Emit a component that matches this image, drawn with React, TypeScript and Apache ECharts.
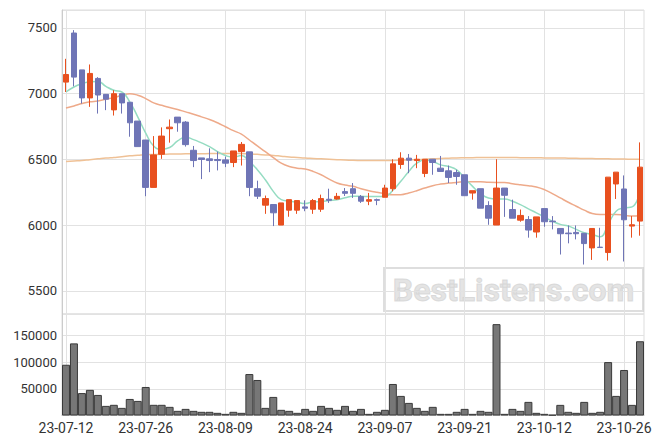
import React, { useEffect, useRef } from "react";
import * as echarts from "echarts";

const dates = [
  "23-07-12","23-07-13","23-07-14","23-07-17","23-07-18","23-07-19","23-07-20","23-07-21","23-07-24","23-07-25",
  "23-07-26","23-07-27","23-07-28","23-07-31","23-08-01","23-08-02","23-08-03","23-08-04","23-08-07","23-08-08",
  "23-08-09","23-08-10","23-08-11","23-08-14","23-08-16","23-08-17","23-08-18","23-08-21","23-08-22","23-08-23",
  "23-08-24","23-08-25","23-08-28","23-08-29","23-08-30","23-08-31","23-09-01","23-09-04","23-09-05","23-09-06",
  "23-09-07","23-09-08","23-09-11","23-09-12","23-09-13","23-09-14","23-09-15","23-09-18","23-09-19","23-09-20",
  "23-09-21","23-09-22","23-09-25","23-09-26","23-09-27","23-10-04","23-10-05","23-10-06","23-10-10","23-10-11",
  "23-10-12","23-10-13","23-10-16","23-10-17","23-10-18","23-10-19","23-10-20","23-10-23","23-10-24","23-10-25",
  "23-10-26","23-10-27","23-10-30",
];

const opens = [
  7087,7460,7180,6967,7115,6994,6876,6999,6934,6791,
  6647,6287,6539,6733,6821,6783,6569,6511,6504,6499,
  6496,6476,6559,6557,6277,6152,6157,6001,6114,6114,
  6139,6121,6121,6197,6199,6255,6277,6217,6182,6194,
  6212,6277,6461,6509,6491,6393,6501,6433,6413,6400,
  6383,6244,6277,6149,6001,6282,6119,6038,6043,5948,
  6126,6031,5975,5940,5945,5938,5827,5833,5792,6313,
  6275,5993,6031,
];
const closes = [
  7145,7125,6967,7153,6989,6957,6999,6929,6778,6597,
  6287,6534,6677,6745,6778,6612,6491,6499,6491,6491,
  6471,6564,6614,6287,6220,6202,6094,6169,6194,6187,
  6129,6187,6202,6189,6219,6242,6242,6182,6194,6189,
  6282,6466,6509,6494,6501,6501,6476,6408,6363,6370,
  6224,6262,6129,6053,6282,6227,6053,6074,5963,6063,
  6026,6026,5935,5935,5935,5860,5975,5830,6365,6403,
  6041,6003,6441,
];
const lows = [
  7012,7055,6924,6899,6848,6874,6833,6848,6672,6597,
  6220,6287,6504,6627,6710,6597,6441,6350,6403,6416,
  6441,6441,6453,6220,6199,6086,5993,6001,6064,6086,
  6106,6086,6101,6169,6194,6222,6207,6169,6152,6152,
  6212,6257,6428,6395,6433,6365,6383,6408,6320,6307,
  6224,6194,6129,6003,6001,6063,6053,6026,5905,5905,
  5988,5968,5777,5862,5892,5701,5736,5830,5731,6199,
  5724,5905,5920,
];
const highs = [
  7264,7482,7180,7221,7125,6994,7025,6999,6934,6791,
  6647,6677,6743,6803,6821,6791,6602,6511,6584,6559,
  6521,6564,6632,6557,6338,6225,6157,6169,6194,6187,
  6189,6199,6232,6277,6245,6282,6320,6229,6245,6202,
  6307,6501,6554,6541,6534,6501,6501,6526,6453,6421,
  6383,6262,6277,6182,6501,6282,6194,6119,6069,6063,
  6126,6069,5975,5998,5998,5938,5975,5980,6365,6403,
  6378,6069,6629,
];
const volumes = [
  95000,135000,42000,48000,38500,18000,20000,14300,31000,27300,
  53400,20000,20000,16200,8700,12400,8700,6900,6900,5000,
  3100,6900,5000,77600,66500,14300,34800,10600,8700,5000,
  12400,8700,18000,14300,10600,18000,8700,12400,3100,6900,
  10600,59000,36700,23600,14300,8700,16200,3100,3100,6900,
  12400,3100,8700,6900,171000,3100,12400,8700,25500,5000,
  3100,1300,19900,6900,5000,25500,5000,6900,100000,36700,
  85200,19900,139000,
];
const ma5 = [
  7012,7050,7075,7090,7092,7055,7025,7012,6937,6823,
  6700,6602,6577,6590,6640,6668,6650,6625,6597,6559,
  6529,6516,6529,6484,6421,6345,6257,6194,6182,6174,
  6164,6177,6179,6187,6194,6208,6219,6219,6217,6217,
  6219,6265,6333,6408,6471,6496,6484,6458,6446,6421,
  6358,6295,6240,6207,6199,6199,6182,6156,6124,6094,
  6061,6031,6006,5993,5968,5943,5930,5912,6006,6106,
  6131,6139,6262,
];
const ma20 = [
  6891,6906,6924,6937,6944,6957,6969,6987,6999,6987,
  6962,6929,6911,6894,6879,6861,6843,6823,6803,6778,
  6748,6718,6692,6647,6602,6559,6514,6471,6446,6433,
  6426,6408,6383,6350,6320,6305,6295,6277,6262,6250,
  6240,6232,6232,6245,6262,6282,6300,6312,6320,6325,
  6330,6330,6330,6326,6325,6325,6315,6307,6300,6290,
  6270,6240,6207,6174,6144,6114,6089,6081,6081,6081,
  6076,6069,6074,
];
const ma60 = [
  6484,6488,6492,6498,6504,6510,6515,6520,6527,6531,
  6535,6537,6539,6540,6541,6542,6542,6543,6544,6545,
  6545,6545,6544,6542,6538,6534,6530,6524,6518,6514,
  6510,6507,6504,6501,6498,6495,6493,6492,6491,6491,
  6491,6492,6494,6496,6498,6501,6504,6507,6509,6511,
  6512,6513,6514,6515,6515,6515,6514,6513,6512,6512,
  6511,6510,6510,6509,6508,6507,6506,6505,6504,6503,
  6502,6501,6500,
];

export default function App() {
  const ref = useRef<HTMLDivElement>(null);
  useEffect(() => {
    if (!ref.current) return;
    const chart = echarts.init(ref.current, null, { renderer: "svg" });
    const candleData = dates.map((_, i) => [opens[i], closes[i], lows[i], highs[i]]);
    const font = "Roboto";
    const plain = (v: number) => String(v);
    const gridLine = { show: true, lineStyle: { color: "#e2e2e2", width: 1 } };
    const maLine = (name: string, data: number[], color: string) => ({
      name,
      type: "line",
      data,
      xAxisIndex: 0,
      yAxisIndex: 0,
      smooth: true,
      symbol: "none",
      lineStyle: { color, width: 1.5 },
      z: 1,
    });
    chart.setOption({
      animation: false,
      grid: [
        { left: 62, right: 19, top: 10, height: 304, show: true, borderColor: "#dddddd", borderWidth: 1 },
        { left: 62, right: 19, top: 314, height: 101.5, show: true, borderColor: "#dddddd", borderWidth: 1 },
      ],
      xAxis: [
        {
          type: "category",
          gridIndex: 0,
          data: dates,
          boundaryGap: true,
          axisLine: { show: false },
          axisTick: { show: false },
          axisLabel: { show: false },
          splitLine: { ...gridLine, interval: 9, alignWithLabel: true },
        },
        {
          type: "category",
          gridIndex: 1,
          data: dates,
          boundaryGap: true,
          axisLine: { show: true, lineStyle: { color: "#cccccc" } },
          axisTick: { show: false },
          axisLabel: { interval: 9, fontFamily: font, fontSize: 14, color: "#333", margin: 5 },
          splitLine: { ...gridLine, interval: 9, alignWithLabel: true },
        },
      ],
      yAxis: [
        {
          type: "value",
          gridIndex: 0,
          min: 5325,
          max: 7635,
          splitNumber: 5,
          axisLine: { show: true, lineStyle: { color: "#cccccc" } },
          axisTick: { show: false },
          axisLabel: { formatter: plain, fontFamily: font, fontSize: 13, color: "#333", margin: 5, showMinLabel: false, showMaxLabel: false },
          splitLine: gridLine,
        },
        {
          type: "value",
          gridIndex: 1,
          min: 0,
          max: 190000,
          interval: 50000,
          axisLine: { show: true, lineStyle: { color: "#cccccc" } },
          axisTick: { show: false },
          axisLabel: { formatter: plain, fontFamily: font, fontSize: 13, color: "#333", margin: 5, showMinLabel: false, showMaxLabel: false },
          splitLine: gridLine,
        },
      ],
      series: [
        maLine("MA60", ma60, "#efc196"),
        maLine("MA20", ma20, "#eeaa8a"),
        maLine("MA5", ma5, "#95dcc2"),
        {
          name: "price",
          type: "candlestick",
          xAxisIndex: 0,
          yAxisIndex: 0,
          data: candleData,
          barWidth: 6,
          itemStyle: {
            color: "#e8501f",
            color0: "#6f75b6",
            borderColor: "#e8501f",
            borderColor0: "#6f75b6",
            borderWidth: 1,
          },
          z: 3,
        },
        {
          name: "volume",
          type: "bar",
          xAxisIndex: 1,
          yAxisIndex: 1,
          data: volumes,
          barCategoryGap: "0%",
          itemStyle: { color: "#777777", borderColor: "#3a3a3a", borderWidth: 1 },
        },
      ],
      graphic: [
        {
          type: "group",
          left: 383,
          top: 267,
          z: 100,
          children: [
            {
              type: "rect",
              shape: { x: 0, y: 0, width: 259, height: 43 },
              style: { fill: "rgba(255,255,255,0.15)", stroke: "rgba(200,200,200,0.6)", lineWidth: 2 },
            },
            {
              type: "text",
              x: 129.5,
              y: 22,
              style: {
                text: "BestListens.com",
                fontFamily: font,
                fontWeight: "bold",
                fontSize: 32,
                fill: "rgba(210,210,210,0.6)",
                stroke: "rgba(190,190,190,0.5)",
                lineWidth: 1,
                align: "center",
                verticalAlign: "middle",
              },
            },
          ],
        },
      ],
    });
    return () => chart.dispose();
  }, []);
  return <div ref={ref} style={{ width: 663, height: 444, position: "absolute", left: 0, top: 0 }} />;
}
